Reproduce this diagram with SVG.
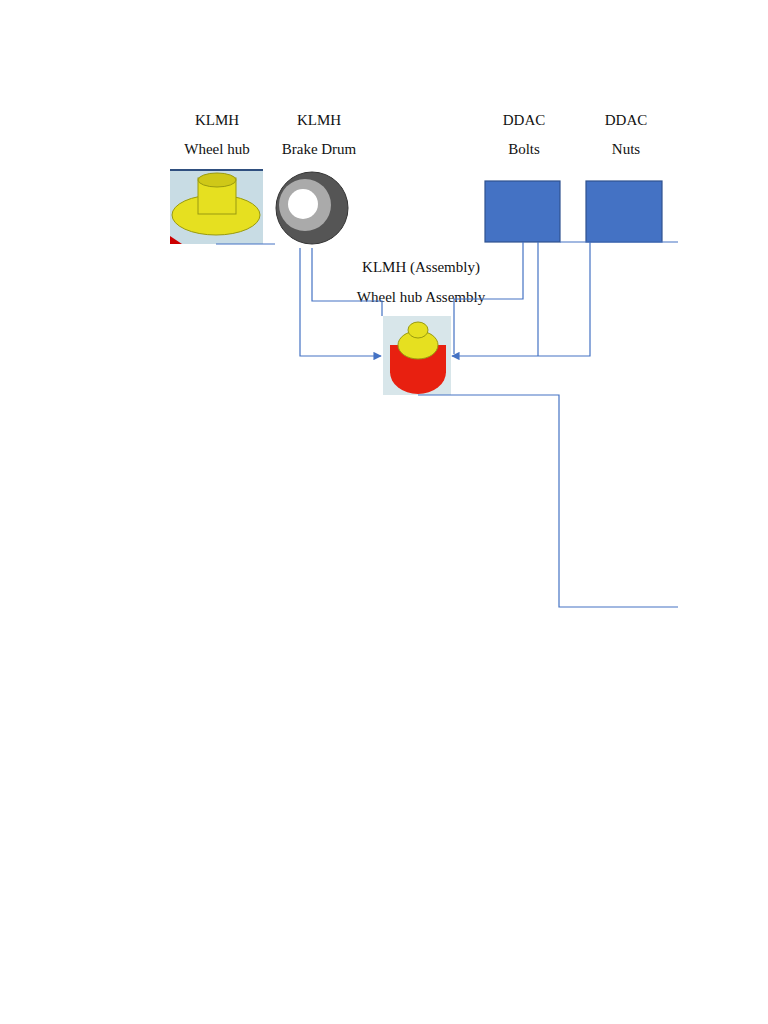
<svg xmlns="http://www.w3.org/2000/svg" width="768" height="1024" viewBox="0 0 768 1024">
<style>
text{font-family:"Liberation Serif",serif;font-size:15px;fill:#111;text-anchor:middle}
.c{fill:none;stroke:#4472c4;stroke-width:1.2}
.box{fill:#4472c4;stroke:#2f528f;stroke-width:1.2}
</style>
<defs><marker id="a" viewBox="0 0 10 10" refX="9" refY="5" markerWidth="7" markerHeight="7" orient="auto"><path d="M0,0L10,5L0,10z" fill="#4472c4"/></marker></defs>
<rect width="768" height="1024" fill="#fff"/>
<g id="wheelhub"><text x="217" y="125">KLMH</text><text x="217" y="154">Wheel hub</text>
<rect x="170" y="169" width="93" height="75" fill="#c8dce4"/><line x1="170" y1="170" x2="263" y2="170" stroke="#2f4f7f" stroke-width="2"/>
<ellipse cx="216" cy="215" rx="44" ry="20" fill="#e6e020" stroke="#999a10"/><rect x="198" y="178" width="38" height="36" fill="#e6e020" stroke="#999a10"/><ellipse cx="217" cy="180" rx="19" ry="7" fill="#cfc818" stroke="#999a10"/><path d="M170,236L182,244L170,244z" fill="#c00"/></g>
<g id="brakedrum"><text x="319" y="125">KLMH</text><text x="319" y="154">Brake Drum</text>
<circle cx="312" cy="208" r="36" fill="#555" stroke="#333"/><circle cx="305" cy="205" r="26" fill="#aaa"/><circle cx="303" cy="204" r="15" fill="#fff"/></g>
<g id="bolts"><text x="524" y="125">DDAC</text><text x="524" y="154">Bolts</text><rect class="box" x="485" y="181" width="75" height="61"/></g>
<g id="nuts"><text x="626" y="125">DDAC</text><text x="626" y="154">Nuts</text><rect class="box" x="586" y="181" width="76" height="61"/></g>
<g id="assembly"><text x="421" y="272">KLMH (Assembly)</text><text x="421" y="302">Wheel hub Assembly</text>
<rect x="383" y="316" width="68" height="79" fill="#d8e6ea"/><ellipse cx="418" cy="372" rx="28" ry="22" fill="#e82010"/><rect x="390" y="345" width="56" height="28" fill="#e82010"/><ellipse cx="418" cy="345" rx="20" ry="14" fill="#e6e020" stroke="#999a10"/><ellipse cx="418" cy="330" rx="10" ry="8" fill="#e6e020" stroke="#999a10"/></g>
<g id="connectors">
<polyline class="c" points="216,244 275,244"/>
<polyline class="c" points="560,242 678,242"/>
<polyline class="c" points="300,248 300,356 381,356" marker-end="url(#a)"/>
<polyline class="c" points="312,248 312,301 382,301 382,316"/>
<polyline class="c" points="523,242 523,299 454,299 454,354"/>
<polyline class="c" points="590,242 590,356 452,356" marker-end="url(#a)"/>
<polyline class="c" points="538,242 538,356"/>
<polyline class="c" points="418,395 559,395 559,607 678,607"/>
</g>
</svg>
